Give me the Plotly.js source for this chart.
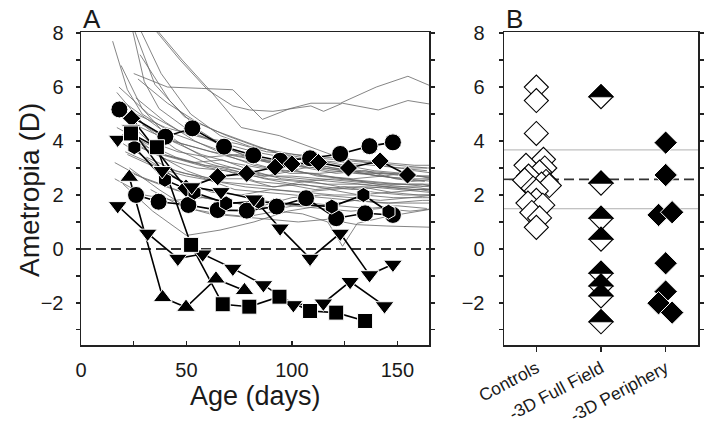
<!DOCTYPE html>
<html><head><meta charset="utf-8">
<script src="https://cdn.plot.ly/plotly-3.0.1.min.js"></script>
<style>html,body{margin:0;padding:0;background:#fff}#chart{width:712px;height:425px}</style>
</head><body><div id="chart"></div>
<script>
// ---------- Panel A: control animals (thin gray lines) ----------
const ctrlAges = [
 [15,22,29,43,57,71,85,99,113,127,141,155,167],
 [23,30,37,51,65,79,93,107,121,135,149,163],
 [25,41,57,72,86,99,109,123,140,155,167],
 [30,47,60,72,80,91,109,115,124,141,155,167],
 [34,48,62,76,94,108,122,136,150,164],
 [18,32,46,60,74,88,102,116,130,144,158,168],
 [20,34,48,62,76,90,104,118,132,146,160,168],
 [19,33,47,61,75,89,103,117,131,145,159,168],
 [22,36,50,64,78,92,106,120,134,148,162,168],
 [24,38,52,66,80,94,108,122,136,150,164],
 [21,35,49,63,77,91,105,119,133,147,161,168],
 [26,40,54,68,82,96,110,124,138,152,166],
 [17,31,45,59,73,87,101,115,129,143,157,168],
 [28,42,56,70,84,98,112,126,140,154,168],
 [16,30,44,58,72,86,100,114,128,142,156,168],
 [27,41,55,69,83,97,111,125,139,153,167],
 [19,29,43,57,71,85,99,113,127,141,155,168],
 [23,37,51,65,79,93,105,117,124,131,145,159,168],
 [20,34,50,66,82,98,114,130,146,162,168],
 [25,39,53,67,81,95,109,123,137,151,165],
 [18,32,46,60,74,88,102,116,130,144,158,168],
 [29,43,57,71,85,99,113,127,141,155,168],
 [21,35,49,63,77,91,105,119,133,147,161,168],
 [24,38,52,66,80,94,108,122,136,150,164],
 [16,30,44,58,72,86,100,114,128,142,156,168],
 [22,36,50,64,78,92,106,120,134,148,162,168],
 [27,41,55,69,83,97,111,125,139,153,167],
 [31,45,59,73,87,101,115,129,143,157,168],
 [20,34,48,62,76,90,104,118,132,146,160,168],
 [26,40,54,68,82,96,110,124,138,152,166],
 [21,35,49,63,77,91,105,119,133,147,161,168],
 [33,47,61,75,89,103,117,131,145,159,168],
 [17,31,45,59,73,87,101,115,129,143,157,168],
 [30,44,58,72,86,100,114,128,142,156,168]
];
const ctrlVals = [
 [7.7,5.9,5.0,4.3,3.9,3.5,3.3,3.1,3.0,2.9,2.7,2.6,2.5],
 [8.6,6.2,5.2,4.4,3.9,3.4,3.2,3.0,2.8,2.9,2.6,2.5],
 [6.5,6.0,5.95,5.9,4.8,5.2,5.4,5.4,6.0,6.4,6.0],
 [8.6,7.0,5.9,5.3,5.15,5.1,5.3,5.1,5.4,5.15,5.5,5.35],
 [8.3,7.0,5.8,4.5,4.2,3.8,3.4,3.2,3.0,2.9],
 [6.0,5.0,4.4,4.1,3.9,3.6,3.5,3.4,3.3,3.2,3.1,3.1],
 [4.8,4.3,3.9,3.6,3.4,3.2,3.1,2.9,2.8,2.8,2.7,2.7],
 [4.2,3.6,3.3,3.0,2.8,2.6,2.5,2.4,2.4,2.3,2.2,2.2],
 [3.5,3.0,2.7,2.5,2.3,2.2,2.1,2.0,2.0,1.9,1.9,1.9],
 [2.8,2.4,2.0,1.8,1.6,1.5,1.7,1.6,1.5,1.6,1.5],
 [5.4,4.6,3.8,3.2,2.9,2.7,2.6,2.5,2.4,2.3,2.3,2.4],
 [5.6,4.7,4.0,3.5,3.1,2.9,2.8,2.6,2.5,2.4,2.3],
 [4.5,3.9,3.4,3.1,3.0,2.7,2.9,2.7,2.6,2.7,2.5,2.6],
 [7.2,5.5,4.4,3.7,3.3,3.0,2.7,2.6,2.4,2.3,2.2],
 [3.2,2.6,2.2,1.9,1.7,1.8,1.6,1.5,1.4,1.5,1.4,1.5],
 [3.8,3.3,3.0,2.9,2.5,2.4,2.2,2.3,2.1,2.0,2.0],
 [6.8,5.2,4.0,3.5,3.2,3.0,2.9,3.1,2.9,2.8,2.7,2.7],
 [3.0,2.2,1.5,1.3,1.2,1.4,1.3,1.0,0.1,0.95,1.2,1.4,1.5],
 [2.4,1.4,0.5,0.7,1.0,1.4,1.6,1.8,1.7,1.8,1.8],
 [4.0,3.5,3.2,3.3,2.9,2.6,2.5,2.3,2.3,2.2,2.1],
 [5.0,4.0,3.6,3.4,3.5,3.3,3.2,3.0,2.8,2.7,2.9,2.8],
 [4.6,4.0,3.7,3.4,3.1,2.8,2.8,2.9,2.7,2.6,2.6],
 [3.6,3.1,2.8,2.6,2.6,2.3,2.4,2.2,2.3,2.1,2.2,2.1],
 [8.8,6.5,5.0,4.2,3.8,3.6,3.4,3.3,3.2,3.1,3.0],
 [2.6,2.0,1.8,1.9,1.7,1.6,1.9,2.0,1.9,1.8,1.9,2.0],
 [4.4,3.5,2.9,2.5,2.4,2.3,2.5,2.6,2.5,2.4,2.4,2.3],
 [6.3,5.4,4.7,4.2,3.8,3.5,3.3,3.1,2.9,2.8,2.6],
 [3.4,2.9,2.6,2.2,2.1,2.0,1.9,1.8,1.7,1.7,1.7],
 [3.9,3.2,2.5,2.1,2.0,2.2,2.1,2.2,2.0,2.1,2.0,2.0],
 [5.0,4.5,4.2,3.9,3.6,3.4,3.3,3.2,3.1,3.0,3.0],
 [9.0,6.1,4.9,4.4,4.0,3.6,3.3,3.0,2.9,2.8,2.7,2.6],
 [2.2,1.6,1.3,1.2,1.1,1.0,1.1,0.9,0.85,0.8,0.8],
 [5.8,4.5,3.7,3.2,2.9,2.6,2.4,2.3,2.2,2.3,2.2,2.2],
 [3.7,3.4,3.1,2.9,2.7,2.7,2.6,2.5,2.4,2.4,2.4]
];

// ---------- Panel A: -3D periphery animals (black symbols) ----------
const circleUpperAges = [18.2, 40, 52.8, 67.8, 81.7, 94.4, 108.6, 122.9, 136.8, 147.9];
const circleUpperVals = [5.17, 4.16, 4.47, 3.79, 3.47, 3.27, 3.36, 3.52, 3.81, 3.95];
const diamondAges = [24, 49.8, 64.8, 78.6, 92, 100, 112.6, 126.8, 141.8, 154.8];
const diamondVals = [4.84, 2.25, 2.68, 2.80, 3.03, 3.15, 3.2, 3.0, 3.26, 2.74];
const circleLowerAges = [26.1, 36.8, 50.9, 64.8, 78.6, 92.8, 106.7, 121, 134.7, 147.9];
const circleLowerVals = [2.0, 1.75, 1.63, 1.44, 1.42, 1.57, 1.88, 1.14, 1.32, 1.26];
const hexAges = [25.3, 39.8, 53.8, 68.8, 84.1, 118.9, 133.9, 145.8];
const hexVals = [3.77, 2.56, 2.09, 1.69, 1.75, 1.57, 2.0, 1.38];
const triDownUpperAges = [17.4, 23.7, 38.5, 52.5, 66.4, 82, 94.4, 108.6, 122.9, 136.8, 147.9];
const triDownUpperVals = [4.06, 4.45, 2.9, 2.3, 2.12, 1.85, 0.77, -0.35, 0.58, -0.96, -0.57];
const triUpAges = [22.9, 38.7, 49.8, 64, 77.5];
const triUpVals = [2.66, -1.8, -2.16, -1.11, -1.54];
const triDownLowerAges = [17.4, 31.6, 45.9, 57.7, 72, 86.5, 100.7, 114.9, 127.6, 143.9];
const triDownLowerVals = [1.6, 0.58, -0.35, -0.19, -0.72, -1.33, -2.07, -2.01, -1.21, -2.11];
const squareAges = [23.7, 36, 52.2, 67.2, 79.8, 94.1, 108.6, 121, 134.7];
const squareVals = [4.28, 3.77, 0.15, -2.05, -2.14, -1.77, -2.3, -2.36, -2.67];

// ---------- Panel B: end-of-treatment ametropia ----------
const groupLabels = ['Controls', '-3D Full Field', '-3D Periphery'];
const controlsEnd = [6.0, 5.5, 4.28, 3.32, 3.1, 3.0, 2.85, 2.7, 2.55, 2.5, 2.4, 2.35, 2.25, 2.15, 1.8, 1.7, 1.62, 1.35, 1.15, 0.8];
const controlsJitter = [0, 0, 0, 0.11, -0.16, 0.13, 0.05, -0.12, -0.18, 0.15, 0.08, 0.2, -0.05, 0, 0, -0.13, 0.1, -0.07, 0.05, 0];
const fullFieldEnd = [5.64, 2.44, 1.14, 0.36, -0.9, -1.37, -1.74, -2.7];
const peripheryEnd = [3.94, 2.74, 1.26, 1.36, -0.53, -1.58, -2.01, -2.36];
const peripheryJitter = [0, 0, -0.11, 0.1, 0, 0, -0.11, 0.1];
const controlMeanSD = [2.58, 1.09];

// ---------- build ----------
const traces = [];
ctrlAges.forEach((a, i) => {
  traces.push({x: a, y: ctrlVals[i], type: 'scatter', mode: 'lines',
    line: {color: '#666', width: 0.8}, xaxis: 'x', yaxis: 'y', hoverinfo: 'skip'});
});
const series = [
  [circleUpperAges, circleUpperVals, 'circle', 17],
  [diamondAges, diamondVals, 'diamond', 14],
  [circleLowerAges, circleLowerVals, 'circle', 17],
  [hexAges, hexVals, 'hexagon', 15],
  [triDownUpperAges, triDownUpperVals, 'triangle-down', 16.5],
  [triUpAges, triUpVals, 'triangle-up', 16.5],
  [triDownLowerAges, triDownLowerVals, 'triangle-down', 16.5],
  [squareAges, squareVals, 'square', 15]
];
series.forEach(s => {
  traces.push({x: s[0], y: s[1], type: 'scatter', mode: 'lines',
    line: {color: '#000', width: 1.6}, xaxis: 'x', yaxis: 'y'});
});
series.forEach(s => {
  traces.push({x: s[0], y: s[1], type: 'scatter', mode: 'markers',
    marker: {symbol: s[2], size: s[3], color: '#000', line: {color: '#fff', width: 1}},
    xaxis: 'x', yaxis: 'y', cliponaxis: false});
});
// Panel B controls (open diamonds)
traces.push({x: controlsEnd.map((v, i) => 0 + controlsJitter[i]), y: controlsEnd, type: 'scatter', mode: 'markers',
  marker: {symbol: 'diamond', size: 18.5, color: '#fff', line: {color: '#000', width: 1.1}},
  xaxis: 'x2', yaxis: 'y2'});
// Panel B periphery (filled diamonds)
traces.push({x: peripheryEnd.map((v, i) => 2 + peripheryJitter[i]), y: peripheryEnd, type: 'scatter', mode: 'markers',
  marker: {symbol: 'diamond', size: 18, color: '#000', line: {color: '#fff', width: 1}},
  xaxis: 'x2', yaxis: 'y2'});

const shapes = [];
shapes.push({type: 'line', xref: 'x domain', yref: 'y', x0: 0, x1: 1, y0: 0, y1: 0,
  line: {color: '#333', width: 2, dash: '10px,5px'}, layer: 'below'});
[controlMeanSD[0] + controlMeanSD[1], controlMeanSD[0] - controlMeanSD[1]].forEach(v => {
  shapes.push({type: 'line', xref: 'x2 domain', yref: 'y2', x0: 0, x1: 1, y0: v, y1: v,
    line: {color: '#b0b0b0', width: 1}, layer: 'below'});
});
shapes.push({type: 'line', xref: 'x2 domain', yref: 'y2', x0: 0, x1: 1, y0: controlMeanSD[0], y1: controlMeanSD[0],
  line: {color: '#333', width: 1.6, dash: '10px,5px'}, layer: 'below'});
// half-filled diamonds for full field group
fullFieldEnd.forEach(v => {
  shapes.push({type: 'path', xref: 'x2', yref: 'y2', xsizemode: 'pixel', ysizemode: 'pixel',
    xanchor: 1, yanchor: v, path: 'M-12,0L0,-12L12,0L0,12Z', fillcolor: '#fff',
    line: {color: '#000', width: 1.1}, layer: 'above'});
  shapes.push({type: 'path', xref: 'x2', yref: 'y2', xsizemode: 'pixel', ysizemode: 'pixel',
    xanchor: 1, yanchor: v, path: 'M-12,0L0,12L12,0Z', fillcolor: '#000',
    line: {color: '#000', width: 1.1}, layer: 'above'});
});

const axisCommon = {showline: true, linecolor: '#222', linewidth: 1.5, showgrid: false, zeroline: false,
  tickcolor: '#222', tickwidth: 1.2, tickfont: {size: 20, color: '#1a1a1a'}};
const yDom = [1 - 345 / 425, 1 - 32 / 425];
const layout = {
  width: 712, height: 425, margin: {l: 0, r: 0, t: 0, b: 0},
  paper_bgcolor: '#fff', plot_bgcolor: '#fff', showlegend: false,
  font: {family: 'Liberation Sans, Arial, sans-serif', color: '#1a1a1a', size: 20},
  xaxis: Object.assign({}, axisCommon, {domain: [81 / 712, 429 / 712], range: [0, 165],
    tickvals: [0, 50, 100, 150], ticks: 'inside', ticklen: 4, mirror: true,
    minor: {tickvals: [25, 75, 125], ticks: 'inside', ticklen: 4, tickcolor: '#222', tickwidth: 1.2},
    ticklabelstandoff: 6, anchor: 'y'}),
  yaxis: Object.assign({}, axisCommon, {domain: yDom, range: [-3.56, 8.04], tick0: 0, dtick: 2,
    ticks: 'outside', ticklen: 4, mirror: 'ticks',
    minor: {dtick: 1, tick0: 0, ticks: 'outside', ticklen: 4, tickcolor: '#222', tickwidth: 1.2},
    ticklabelstandoff: 8, anchor: 'x'}),
  xaxis2: Object.assign({}, axisCommon, {domain: [504 / 712, 698 / 712], range: [-0.5, 2.5],
    tickvals: [0, 1, 2], ticktext: groupLabels, tickangle: -28, ticks: 'outside', ticklen: 5, mirror: true,
    tickfont: {size: 17.5, color: '#1a1a1a'}, anchor: 'y2'}),
  yaxis2: Object.assign({}, axisCommon, {domain: yDom, range: [-3.56, 8.04], tick0: 0, dtick: 2,
    ticks: 'outside', ticklen: 4, mirror: 'ticks',
    minor: {dtick: 1, tick0: 0, ticks: 'outside', ticklen: 4, tickcolor: '#222', tickwidth: 1.2},
    ticklabelstandoff: 10, anchor: 'x2'}),
  shapes: shapes,
  annotations: [
    {text: 'A', xref: 'paper', yref: 'paper', x: 81 / 712, y: 1 - 19 / 425, xanchor: 'left', yanchor: 'middle',
      showarrow: false, font: {size: 26, color: '#1a1a1a'}},
    {text: 'B', xref: 'paper', yref: 'paper', x: 504 / 712, y: 1 - 19 / 425, xanchor: 'left', yanchor: 'middle',
      showarrow: false, font: {size: 26, color: '#1a1a1a'}},
    {text: 'Ametropia (D)', xref: 'paper', yref: 'paper', x: 30 / 712, y: 1 - 190 / 425, textangle: -90,
      xanchor: 'center', yanchor: 'middle', showarrow: false, font: {size: 28, color: '#1a1a1a'}},
    {text: 'Age (days)', xref: 'paper', yref: 'paper', x: 255 / 712, y: 1 - 396 / 425,
      xanchor: 'center', yanchor: 'middle', showarrow: false, font: {size: 27, color: '#1a1a1a'}}
  ]
};
Plotly.newPlot('chart', traces, layout, {staticPlot: true, displayModeBar: false});
</script></body></html>
